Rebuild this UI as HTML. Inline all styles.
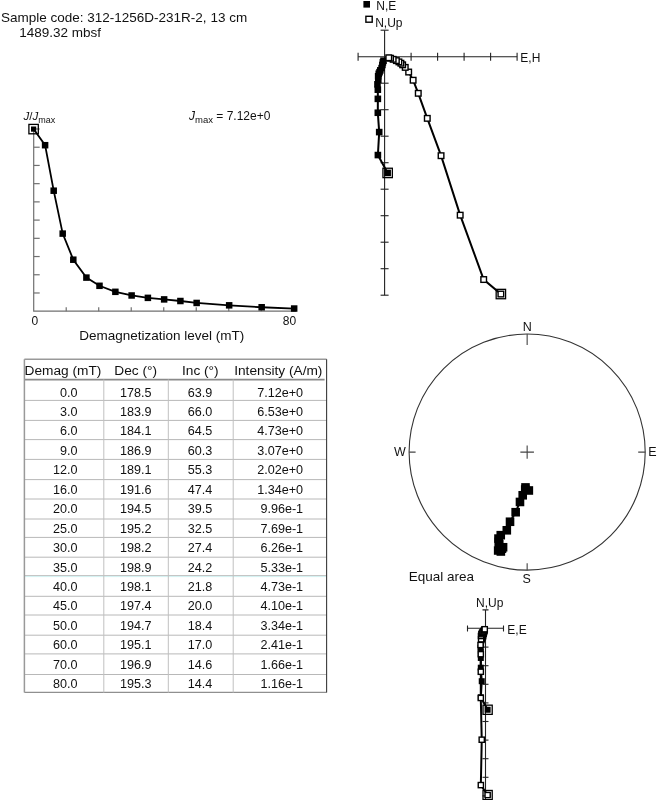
<!DOCTYPE html>
<html><head><meta charset="utf-8"><style>
html,body{margin:0;padding:0;background:#fff;}
svg{display:block;will-change:transform;}
text{font-family:"Liberation Sans",sans-serif;fill:#111;}
</style></head><body>
<svg width="660" height="800" viewBox="0 0 660 800">
<text x="1" y="21.6" font-size="13.5" font-family="Liberation Sans, sans-serif">Sample code: 312-1256D-231R-2, 13 cm</text>
<text x="19.2" y="37.1" font-size="13.5" font-family="Liberation Sans, sans-serif">1489.32 mbsf</text>
<g stroke="#707070" stroke-width="1.2" fill="none">
<path d="M33.7 129 V311.2 H296"/>
<path d="M33.7 292.98 h6"/>
<path d="M33.7 274.76 h6"/>
<path d="M33.7 256.54 h6"/>
<path d="M33.7 238.32 h6"/>
<path d="M33.7 220.1 h6"/>
<path d="M33.7 201.88 h6"/>
<path d="M33.7 183.66 h6"/>
<path d="M33.7 165.44 h6"/>
<path d="M33.7 147.22 h6"/>
<path d="M33.7 129 h6"/>
<path d="M66.21 311.2 v-4"/>
<path d="M98.72 311.2 v-4"/>
<path d="M131.23 311.2 v-4"/>
<path d="M163.74 311.2 v-4"/>
<path d="M196.25 311.2 v-4"/>
<path d="M228.76 311.2 v-4"/>
<path d="M261.27 311.2 v-4"/>
<path d="M293.78 311.2 v-4"/>
</g>
<polyline fill="none" stroke="#000" stroke-width="1.8" points="33.6,129.1 45.1,145.2 53.7,190.7 62.7,233.6 73.3,259.7 86.4,277.6 99.5,285.8 115.38,291.82 131.63,295.48 147.89,297.86 164.14,299.4 180.4,301.01 196.65,302.95 229.16,305.33 261.67,307.25 294.18,308.53"/>
<rect x="31" y="126.5" width="5.2" height="5.2" fill="#000"/>
<rect x="41.85" y="141.95" width="6.5" height="6.5" fill="#000"/>
<rect x="50.45" y="187.45" width="6.5" height="6.5" fill="#000"/>
<rect x="59.45" y="230.35" width="6.5" height="6.5" fill="#000"/>
<rect x="70.05" y="256.45" width="6.5" height="6.5" fill="#000"/>
<rect x="83.15" y="274.35" width="6.5" height="6.5" fill="#000"/>
<rect x="96.25" y="282.55" width="6.5" height="6.5" fill="#000"/>
<rect x="112.12" y="288.57" width="6.5" height="6.5" fill="#000"/>
<rect x="128.38" y="292.23" width="6.5" height="6.5" fill="#000"/>
<rect x="144.64" y="294.61" width="6.5" height="6.5" fill="#000"/>
<rect x="160.89" y="296.15" width="6.5" height="6.5" fill="#000"/>
<rect x="177.15" y="297.76" width="6.5" height="6.5" fill="#000"/>
<rect x="193.4" y="299.7" width="6.5" height="6.5" fill="#000"/>
<rect x="225.91" y="302.08" width="6.5" height="6.5" fill="#000"/>
<rect x="258.42" y="304" width="6.5" height="6.5" fill="#000"/>
<rect x="290.93" y="305.28" width="6.5" height="6.5" fill="#000"/>
<rect x="28.9" y="124.4" width="9.4" height="9.4" fill="none" stroke="#000" stroke-width="1.3"/>
<text x="34.8" y="325" font-size="12" text-anchor="middle" font-family="Liberation Sans, sans-serif">0</text>
<text x="289.5" y="325" font-size="12" text-anchor="middle" font-family="Liberation Sans, sans-serif">80</text>
<text x="79.2" y="340.2" font-size="13.5" font-family="Liberation Sans, sans-serif">Demagnetization level (mT)</text>
<text x="23.5" y="120" font-size="11.5" font-family="Liberation Sans, sans-serif"><tspan font-style="italic">J</tspan>/<tspan font-style="italic">J</tspan><tspan font-size="9" dy="2.7">max</tspan></text>
<text x="189" y="120" font-size="12" font-family="Liberation Sans, sans-serif"><tspan font-style="italic">J</tspan><tspan font-size="9.5" dy="2.7">max</tspan><tspan dy="-2.7"> = 7.12e+0</tspan></text>
<g stroke="#222" stroke-width="1.1" fill="none">
<path d="M358.1 56.7 H517.1 M384.6 30.2 V295.2"/>
<path d="M358.1 52.7 v8"/>
<path d="M411.1 52.7 v8"/>
<path d="M437.6 52.7 v8"/>
<path d="M464.1 52.7 v8"/>
<path d="M490.6 52.7 v8"/>
<path d="M517.1 52.7 v8"/>
<path d="M380.6 30.2 h8"/>
<path d="M380.6 83.2 h8"/>
<path d="M380.6 109.7 h8"/>
<path d="M380.6 136.2 h8"/>
<path d="M380.6 162.7 h8"/>
<path d="M380.6 189.2 h8"/>
<path d="M380.6 215.7 h8"/>
<path d="M380.6 242.2 h8"/>
<path d="M380.6 268.7 h8"/>
<path d="M380.6 295.2 h8"/>
</g>
<text x="520.3" y="61.8" font-size="12" font-family="Liberation Sans, sans-serif">E,H</text>
<polyline fill="none" stroke="#000" stroke-width="2" points="387.64,172.93 377.89,155.06 379.2,132.09 377.82,112.75 377.85,98.85 377.83,89.68 377.46,84.32 378.29,79.93 378.16,76.3 378.75,73.77 379.54,72.2 380.32,70.35 381.61,68.08 382.37,64.96 382.87,62.41 383.5,60.72"/>
<polyline fill="none" stroke="#000" stroke-width="2" points="500.87,294.04 483.69,279.54 460.19,215.17 441.06,155.69 427.29,118.35 418.27,93.31 413.13,80.22 408.67,72.04 405.23,67.39 402.65,64.81 400.9,63.22 398.9,61.91 396.36,60.61 393.16,59.32 390.56,58.25 388.77,57.77"/>
<rect x="384.34" y="169.63" width="6.6" height="6.6" fill="#000"/>
<rect x="374.59" y="151.76" width="6.6" height="6.6" fill="#000"/>
<rect x="375.9" y="128.79" width="6.6" height="6.6" fill="#000"/>
<rect x="374.52" y="109.45" width="6.6" height="6.6" fill="#000"/>
<rect x="374.55" y="95.55" width="6.6" height="6.6" fill="#000"/>
<rect x="374.53" y="86.38" width="6.6" height="6.6" fill="#000"/>
<rect x="374.16" y="81.02" width="6.6" height="6.6" fill="#000"/>
<rect x="374.99" y="76.63" width="6.6" height="6.6" fill="#000"/>
<rect x="374.86" y="73" width="6.6" height="6.6" fill="#000"/>
<rect x="375.45" y="70.47" width="6.6" height="6.6" fill="#000"/>
<rect x="376.24" y="68.9" width="6.6" height="6.6" fill="#000"/>
<rect x="377.02" y="67.05" width="6.6" height="6.6" fill="#000"/>
<rect x="378.31" y="64.78" width="6.6" height="6.6" fill="#000"/>
<rect x="379.07" y="61.66" width="6.6" height="6.6" fill="#000"/>
<rect x="379.57" y="59.11" width="6.6" height="6.6" fill="#000"/>
<rect x="380.2" y="57.42" width="6.6" height="6.6" fill="#000"/>
<rect x="498.07" y="291.24" width="5.6" height="5.6" fill="#fff" stroke="#000" stroke-width="1.4"/>
<rect x="480.89" y="276.74" width="5.6" height="5.6" fill="#fff" stroke="#000" stroke-width="1.4"/>
<rect x="457.39" y="212.37" width="5.6" height="5.6" fill="#fff" stroke="#000" stroke-width="1.4"/>
<rect x="438.26" y="152.89" width="5.6" height="5.6" fill="#fff" stroke="#000" stroke-width="1.4"/>
<rect x="424.49" y="115.55" width="5.6" height="5.6" fill="#fff" stroke="#000" stroke-width="1.4"/>
<rect x="415.47" y="90.51" width="5.6" height="5.6" fill="#fff" stroke="#000" stroke-width="1.4"/>
<rect x="410.33" y="77.42" width="5.6" height="5.6" fill="#fff" stroke="#000" stroke-width="1.4"/>
<rect x="405.87" y="69.24" width="5.6" height="5.6" fill="#fff" stroke="#000" stroke-width="1.4"/>
<rect x="402.43" y="64.59" width="5.6" height="5.6" fill="#fff" stroke="#000" stroke-width="1.4"/>
<rect x="399.85" y="62.01" width="5.6" height="5.6" fill="#fff" stroke="#000" stroke-width="1.4"/>
<rect x="398.1" y="60.42" width="5.6" height="5.6" fill="#fff" stroke="#000" stroke-width="1.4"/>
<rect x="396.1" y="59.11" width="5.6" height="5.6" fill="#fff" stroke="#000" stroke-width="1.4"/>
<rect x="393.56" y="57.81" width="5.6" height="5.6" fill="#fff" stroke="#000" stroke-width="1.4"/>
<rect x="390.36" y="56.52" width="5.6" height="5.6" fill="#fff" stroke="#000" stroke-width="1.4"/>
<rect x="387.76" y="55.45" width="5.6" height="5.6" fill="#fff" stroke="#000" stroke-width="1.4"/>
<rect x="385.97" y="54.97" width="5.6" height="5.6" fill="#fff" stroke="#000" stroke-width="1.4"/>
<rect x="382.94" y="168.23" width="9.4" height="9.4" fill="none" stroke="#000" stroke-width="1.3"/>
<rect x="496.17" y="289.34" width="9.4" height="9.4" fill="none" stroke="#000" stroke-width="1.3"/>
<rect x="363.4" y="1" width="6.6" height="6.6" fill="#000"/>
<text x="376.3" y="9.8" font-size="12" font-family="Liberation Sans, sans-serif">N,E</text>
<rect x="365.9" y="16.3" width="6.3" height="5.9" fill="#fff" stroke="#000" stroke-width="1.4"/>
<text x="375.2" y="26.6" font-size="12" font-family="Liberation Sans, sans-serif">N,Up</text>
<circle cx="527.15" cy="452.1" r="118.05" fill="none" stroke="#333" stroke-width="1.1"/>
<g stroke="#444" stroke-width="1.1">
<path d="M527.15 334.05 v11 M527.15 570.15 v-7 M409.1 452.1 h6.5 M645.2 452.1 h-7"/>
<path d="M520.35 452.1 h13.6 M527.15 445.40000000000003 v13.4"/>
</g>
<text x="527.15" y="330.6" font-size="12.5" text-anchor="middle" font-family="Liberation Sans, sans-serif">N</text>
<text x="526.65" y="582.9" font-size="12.5" text-anchor="middle" font-family="Liberation Sans, sans-serif">S</text>
<text x="394" y="456" font-size="12.5" font-family="Liberation Sans, sans-serif">W</text>
<text x="648.3" y="455.8" font-size="12.5" font-family="Liberation Sans, sans-serif">E</text>
<text x="408.8" y="580.8" font-size="13.5" font-family="Liberation Sans, sans-serif">Equal area</text>
<polyline fill="none" stroke="#000" stroke-width="2" points="528.84,490.48 525.49,487.43 525.22,489.55 522.71,495.28 519.98,501.96 515.66,512.21 510.02,521.75 506.8,530.29 500.76,535.19 498.48,538.59 498.77,541.77 499.21,544.18 503.07,547.26 501.98,548.68 498.17,550.48 500.85,551.5"/>
<rect x="524.54" y="486.18" width="8.6" height="8.6" fill="#000"/>
<rect x="521.19" y="483.13" width="8.6" height="8.6" fill="#000"/>
<rect x="520.92" y="485.25" width="8.6" height="8.6" fill="#000"/>
<rect x="518.41" y="490.98" width="8.6" height="8.6" fill="#000"/>
<rect x="515.68" y="497.66" width="8.6" height="8.6" fill="#000"/>
<rect x="511.36" y="507.91" width="8.6" height="8.6" fill="#000"/>
<rect x="505.72" y="517.45" width="8.6" height="8.6" fill="#000"/>
<rect x="502.5" y="525.99" width="8.6" height="8.6" fill="#000"/>
<rect x="496.46" y="530.89" width="8.6" height="8.6" fill="#000"/>
<rect x="494.18" y="534.29" width="8.6" height="8.6" fill="#000"/>
<rect x="494.47" y="537.47" width="8.6" height="8.6" fill="#000"/>
<rect x="494.91" y="539.88" width="8.6" height="8.6" fill="#000"/>
<rect x="498.77" y="542.96" width="8.6" height="8.6" fill="#000"/>
<rect x="497.68" y="544.38" width="8.6" height="8.6" fill="#000"/>
<rect x="493.87" y="546.18" width="8.6" height="8.6" fill="#000"/>
<rect x="496.55" y="547.2" width="8.6" height="8.6" fill="#000"/>
<g stroke="#222" stroke-width="1.1" fill="none">
<path d="M467.5 628.3 H503.5 M485.5 609.9 V800"/>
<path d="M467.5 625.5 v6 M503.5 625.5 v6 M482.5 609.9 h6"/>
<path d="M482.5 647.1 h6"/>
<path d="M482.5 665.7 h6"/>
<path d="M482.5 684.3 h6"/>
<path d="M482.5 702.9 h6"/>
<path d="M482.5 721.5 h6"/>
<path d="M482.5 740.1 h6"/>
<path d="M482.5 758.7 h6"/>
<path d="M482.5 777.3 h6"/>
<path d="M482.5 795.9 h6"/>
</g>
<text x="476" y="606.5" font-size="12" font-family="Liberation Sans, sans-serif">N,Up</text>
<text x="507.3" y="633.8" font-size="12" font-family="Liberation Sans, sans-serif">E,E</text>
<polyline fill="none" stroke="#000" stroke-width="2" points="487.62,709.76 480.84,697.26 481.74,681.21 480.79,667.69 480.81,657.97 480.79,651.56 480.54,647.81 481.11,644.74 481.02,642.2 481.44,640.44 481.98,639.33 482.53,638.04 483.43,636.45 483.95,634.27 484.3,632.49 484.74,631.31"/>
<polyline fill="none" stroke="#000" stroke-width="2" points="487.62,795.06 480.84,785.1 481.74,739.71 480.79,697.97 480.81,671.76 480.79,654.19 480.54,645 481.11,639.26 481.02,636 481.44,634.19 481.98,633.08 482.53,632.15 483.43,631.25 483.95,630.34 484.3,629.59 484.74,629.25"/>
<rect x="484.62" y="706.76" width="6" height="6" fill="#000"/>
<rect x="477.84" y="694.26" width="6" height="6" fill="#000"/>
<rect x="478.74" y="678.21" width="6" height="6" fill="#000"/>
<rect x="477.79" y="664.69" width="6" height="6" fill="#000"/>
<rect x="477.81" y="654.97" width="6" height="6" fill="#000"/>
<rect x="477.79" y="648.56" width="6" height="6" fill="#000"/>
<rect x="477.54" y="644.81" width="6" height="6" fill="#000"/>
<rect x="478.11" y="641.74" width="6" height="6" fill="#000"/>
<rect x="478.02" y="639.2" width="6" height="6" fill="#000"/>
<rect x="478.44" y="637.44" width="6" height="6" fill="#000"/>
<rect x="478.98" y="636.33" width="6" height="6" fill="#000"/>
<rect x="479.53" y="635.04" width="6" height="6" fill="#000"/>
<rect x="480.43" y="633.45" width="6" height="6" fill="#000"/>
<rect x="480.95" y="631.27" width="6" height="6" fill="#000"/>
<rect x="481.3" y="629.49" width="6" height="6" fill="#000"/>
<rect x="481.74" y="628.31" width="6" height="6" fill="#000"/>
<rect x="485.02" y="792.46" width="5.2" height="5.2" fill="#fff" stroke="#000" stroke-width="1.4"/>
<rect x="478.24" y="782.5" width="5.2" height="5.2" fill="#fff" stroke="#000" stroke-width="1.4"/>
<rect x="479.14" y="737.11" width="5.2" height="5.2" fill="#fff" stroke="#000" stroke-width="1.4"/>
<rect x="478.19" y="695.37" width="5.2" height="5.2" fill="#fff" stroke="#000" stroke-width="1.4"/>
<rect x="478.21" y="669.16" width="5.2" height="5.2" fill="#fff" stroke="#000" stroke-width="1.4"/>
<rect x="478.19" y="651.59" width="5.2" height="5.2" fill="#fff" stroke="#000" stroke-width="1.4"/>
<rect x="477.94" y="642.4" width="5.2" height="5.2" fill="#fff" stroke="#000" stroke-width="1.4"/>
<rect x="478.51" y="636.66" width="5.2" height="5.2" fill="#fff" stroke="#000" stroke-width="1.4"/>
<rect x="478.42" y="633.4" width="5.2" height="5.2" fill="#fff" stroke="#000" stroke-width="1.4"/>
<rect x="478.84" y="631.59" width="5.2" height="5.2" fill="#fff" stroke="#000" stroke-width="1.4"/>
<rect x="479.38" y="630.48" width="5.2" height="5.2" fill="#fff" stroke="#000" stroke-width="1.4"/>
<rect x="479.93" y="629.55" width="5.2" height="5.2" fill="#fff" stroke="#000" stroke-width="1.4"/>
<rect x="480.83" y="628.65" width="5.2" height="5.2" fill="#fff" stroke="#000" stroke-width="1.4"/>
<rect x="481.35" y="627.74" width="5.2" height="5.2" fill="#fff" stroke="#000" stroke-width="1.4"/>
<rect x="481.7" y="626.99" width="5.2" height="5.2" fill="#fff" stroke="#000" stroke-width="1.4"/>
<rect x="482.14" y="626.65" width="5.2" height="5.2" fill="#fff" stroke="#000" stroke-width="1.4"/>
<rect x="483.02" y="705.16" width="9.2" height="9.2" fill="none" stroke="#000" stroke-width="1.3"/>
<rect x="483.02" y="790.46" width="9.2" height="9.2" fill="none" stroke="#000" stroke-width="1.3"/>
<g fill="none">
<path d="M24.4 359.2 H326.6" stroke="#999" stroke-width="1.5"/>
<path d="M24.4 379.7 H324.6" stroke="#8a8a8a" stroke-width="1.7"/>
<path d="M24.4 400.4 H326.6" stroke="#b8b8b8" stroke-width="1"/>
<path d="M24.4 420.4 H326.6" stroke="#b8b8b8" stroke-width="1"/>
<path d="M24.4 439.6 H326.6" stroke="#b8b8b8" stroke-width="1"/>
<path d="M24.4 459.4 H326.6" stroke="#b8b8b8" stroke-width="1"/>
<path d="M24.4 479.6 H326.6" stroke="#b8b8b8" stroke-width="1"/>
<path d="M24.4 499 H326.6" stroke="#b8b8b8" stroke-width="1"/>
<path d="M24.4 519 H326.6" stroke="#b8b8b8" stroke-width="1"/>
<path d="M24.4 537.4 H326.6" stroke="#b8b8b8" stroke-width="1"/>
<path d="M24.4 557.2 H326.6" stroke="#b8b8b8" stroke-width="1"/>
<path d="M24.4 575.7 H326.6" stroke="#b8b8b8" stroke-width="1"/>
<path d="M24.4 596.3 H326.6" stroke="#b8b8b8" stroke-width="1"/>
<path d="M24.4 615 H326.6" stroke="#b8b8b8" stroke-width="1"/>
<path d="M24.4 635.2 H326.6" stroke="#b8b8b8" stroke-width="1"/>
<path d="M24.4 653.9 H326.6" stroke="#b8b8b8" stroke-width="1"/>
<path d="M24.4 674.5 H326.6" stroke="#b8b8b8" stroke-width="1"/>
<path d="M24.4 692.3000000000001 H326.6" stroke="#8f8f8f" stroke-width="1.3"/>
<path d="M24.4 576.6 H326.6" stroke="#d2f2f2" stroke-width="1"/>
<path d="M103.8 379.5 V692.6" stroke="#c0c0c0" stroke-width="1"/>
<path d="M168.3 379.5 V692.6" stroke="#c0c0c0" stroke-width="1"/>
<path d="M233.2 379.5 V692.6" stroke="#c0c0c0" stroke-width="1"/>
<path d="M24.4 359.2 V692.6" stroke="#999" stroke-width="1.5"/>
<path d="M326.6 359.2 V692.6" stroke="#3a3a3a" stroke-width="1.1"/>
</g>
<text x="24.6" y="374.6" font-size="13.7" font-family="Liberation Sans, sans-serif">Demag (mT)</text>
<text x="114.3" y="374.6" font-size="13.7" font-family="Liberation Sans, sans-serif">Dec (°)</text>
<text x="182" y="374.6" font-size="13.7" font-family="Liberation Sans, sans-serif">Inc (°)</text>
<text x="234.2" y="374.6" font-size="13.7" font-family="Liberation Sans, sans-serif">Intensity (A/m)</text>
<text x="77.6" y="396.6" font-size="12.6" text-anchor="end" font-family="Liberation Sans, sans-serif">0.0</text>
<text x="151.4" y="396.6" font-size="12.6" text-anchor="end" font-family="Liberation Sans, sans-serif">178.5</text>
<text x="212.3" y="396.6" font-size="12.6" text-anchor="end" font-family="Liberation Sans, sans-serif">63.9</text>
<text x="303.1" y="396.6" font-size="12.6" text-anchor="end" font-family="Liberation Sans, sans-serif">7.12e+0</text>
<text x="77.6" y="416.04" font-size="12.6" text-anchor="end" font-family="Liberation Sans, sans-serif">3.0</text>
<text x="151.4" y="416.04" font-size="12.6" text-anchor="end" font-family="Liberation Sans, sans-serif">183.9</text>
<text x="212.3" y="416.04" font-size="12.6" text-anchor="end" font-family="Liberation Sans, sans-serif">66.0</text>
<text x="303.1" y="416.04" font-size="12.6" text-anchor="end" font-family="Liberation Sans, sans-serif">6.53e+0</text>
<text x="77.6" y="435.48" font-size="12.6" text-anchor="end" font-family="Liberation Sans, sans-serif">6.0</text>
<text x="151.4" y="435.48" font-size="12.6" text-anchor="end" font-family="Liberation Sans, sans-serif">184.1</text>
<text x="212.3" y="435.48" font-size="12.6" text-anchor="end" font-family="Liberation Sans, sans-serif">64.5</text>
<text x="303.1" y="435.48" font-size="12.6" text-anchor="end" font-family="Liberation Sans, sans-serif">4.73e+0</text>
<text x="77.6" y="454.92" font-size="12.6" text-anchor="end" font-family="Liberation Sans, sans-serif">9.0</text>
<text x="151.4" y="454.92" font-size="12.6" text-anchor="end" font-family="Liberation Sans, sans-serif">186.9</text>
<text x="212.3" y="454.92" font-size="12.6" text-anchor="end" font-family="Liberation Sans, sans-serif">60.3</text>
<text x="303.1" y="454.92" font-size="12.6" text-anchor="end" font-family="Liberation Sans, sans-serif">3.07e+0</text>
<text x="77.6" y="474.36" font-size="12.6" text-anchor="end" font-family="Liberation Sans, sans-serif">12.0</text>
<text x="151.4" y="474.36" font-size="12.6" text-anchor="end" font-family="Liberation Sans, sans-serif">189.1</text>
<text x="212.3" y="474.36" font-size="12.6" text-anchor="end" font-family="Liberation Sans, sans-serif">55.3</text>
<text x="303.1" y="474.36" font-size="12.6" text-anchor="end" font-family="Liberation Sans, sans-serif">2.02e+0</text>
<text x="77.6" y="493.8" font-size="12.6" text-anchor="end" font-family="Liberation Sans, sans-serif">16.0</text>
<text x="151.4" y="493.8" font-size="12.6" text-anchor="end" font-family="Liberation Sans, sans-serif">191.6</text>
<text x="212.3" y="493.8" font-size="12.6" text-anchor="end" font-family="Liberation Sans, sans-serif">47.4</text>
<text x="303.1" y="493.8" font-size="12.6" text-anchor="end" font-family="Liberation Sans, sans-serif">1.34e+0</text>
<text x="77.6" y="513.24" font-size="12.6" text-anchor="end" font-family="Liberation Sans, sans-serif">20.0</text>
<text x="151.4" y="513.24" font-size="12.6" text-anchor="end" font-family="Liberation Sans, sans-serif">194.5</text>
<text x="212.3" y="513.24" font-size="12.6" text-anchor="end" font-family="Liberation Sans, sans-serif">39.5</text>
<text x="303.1" y="513.24" font-size="12.6" text-anchor="end" font-family="Liberation Sans, sans-serif">9.96e-1</text>
<text x="77.6" y="532.68" font-size="12.6" text-anchor="end" font-family="Liberation Sans, sans-serif">25.0</text>
<text x="151.4" y="532.68" font-size="12.6" text-anchor="end" font-family="Liberation Sans, sans-serif">195.2</text>
<text x="212.3" y="532.68" font-size="12.6" text-anchor="end" font-family="Liberation Sans, sans-serif">32.5</text>
<text x="303.1" y="532.68" font-size="12.6" text-anchor="end" font-family="Liberation Sans, sans-serif">7.69e-1</text>
<text x="77.6" y="552.12" font-size="12.6" text-anchor="end" font-family="Liberation Sans, sans-serif">30.0</text>
<text x="151.4" y="552.12" font-size="12.6" text-anchor="end" font-family="Liberation Sans, sans-serif">198.2</text>
<text x="212.3" y="552.12" font-size="12.6" text-anchor="end" font-family="Liberation Sans, sans-serif">27.4</text>
<text x="303.1" y="552.12" font-size="12.6" text-anchor="end" font-family="Liberation Sans, sans-serif">6.26e-1</text>
<text x="77.6" y="571.56" font-size="12.6" text-anchor="end" font-family="Liberation Sans, sans-serif">35.0</text>
<text x="151.4" y="571.56" font-size="12.6" text-anchor="end" font-family="Liberation Sans, sans-serif">198.9</text>
<text x="212.3" y="571.56" font-size="12.6" text-anchor="end" font-family="Liberation Sans, sans-serif">24.2</text>
<text x="303.1" y="571.56" font-size="12.6" text-anchor="end" font-family="Liberation Sans, sans-serif">5.33e-1</text>
<text x="77.6" y="591" font-size="12.6" text-anchor="end" font-family="Liberation Sans, sans-serif">40.0</text>
<text x="151.4" y="591" font-size="12.6" text-anchor="end" font-family="Liberation Sans, sans-serif">198.1</text>
<text x="212.3" y="591" font-size="12.6" text-anchor="end" font-family="Liberation Sans, sans-serif">21.8</text>
<text x="303.1" y="591" font-size="12.6" text-anchor="end" font-family="Liberation Sans, sans-serif">4.73e-1</text>
<text x="77.6" y="610.44" font-size="12.6" text-anchor="end" font-family="Liberation Sans, sans-serif">45.0</text>
<text x="151.4" y="610.44" font-size="12.6" text-anchor="end" font-family="Liberation Sans, sans-serif">197.4</text>
<text x="212.3" y="610.44" font-size="12.6" text-anchor="end" font-family="Liberation Sans, sans-serif">20.0</text>
<text x="303.1" y="610.44" font-size="12.6" text-anchor="end" font-family="Liberation Sans, sans-serif">4.10e-1</text>
<text x="77.6" y="629.88" font-size="12.6" text-anchor="end" font-family="Liberation Sans, sans-serif">50.0</text>
<text x="151.4" y="629.88" font-size="12.6" text-anchor="end" font-family="Liberation Sans, sans-serif">194.7</text>
<text x="212.3" y="629.88" font-size="12.6" text-anchor="end" font-family="Liberation Sans, sans-serif">18.4</text>
<text x="303.1" y="629.88" font-size="12.6" text-anchor="end" font-family="Liberation Sans, sans-serif">3.34e-1</text>
<text x="77.6" y="649.32" font-size="12.6" text-anchor="end" font-family="Liberation Sans, sans-serif">60.0</text>
<text x="151.4" y="649.32" font-size="12.6" text-anchor="end" font-family="Liberation Sans, sans-serif">195.1</text>
<text x="212.3" y="649.32" font-size="12.6" text-anchor="end" font-family="Liberation Sans, sans-serif">17.0</text>
<text x="303.1" y="649.32" font-size="12.6" text-anchor="end" font-family="Liberation Sans, sans-serif">2.41e-1</text>
<text x="77.6" y="668.76" font-size="12.6" text-anchor="end" font-family="Liberation Sans, sans-serif">70.0</text>
<text x="151.4" y="668.76" font-size="12.6" text-anchor="end" font-family="Liberation Sans, sans-serif">196.9</text>
<text x="212.3" y="668.76" font-size="12.6" text-anchor="end" font-family="Liberation Sans, sans-serif">14.6</text>
<text x="303.1" y="668.76" font-size="12.6" text-anchor="end" font-family="Liberation Sans, sans-serif">1.66e-1</text>
<text x="77.6" y="688.2" font-size="12.6" text-anchor="end" font-family="Liberation Sans, sans-serif">80.0</text>
<text x="151.4" y="688.2" font-size="12.6" text-anchor="end" font-family="Liberation Sans, sans-serif">195.3</text>
<text x="212.3" y="688.2" font-size="12.6" text-anchor="end" font-family="Liberation Sans, sans-serif">14.4</text>
<text x="303.1" y="688.2" font-size="12.6" text-anchor="end" font-family="Liberation Sans, sans-serif">1.16e-1</text>
</svg></body></html>
